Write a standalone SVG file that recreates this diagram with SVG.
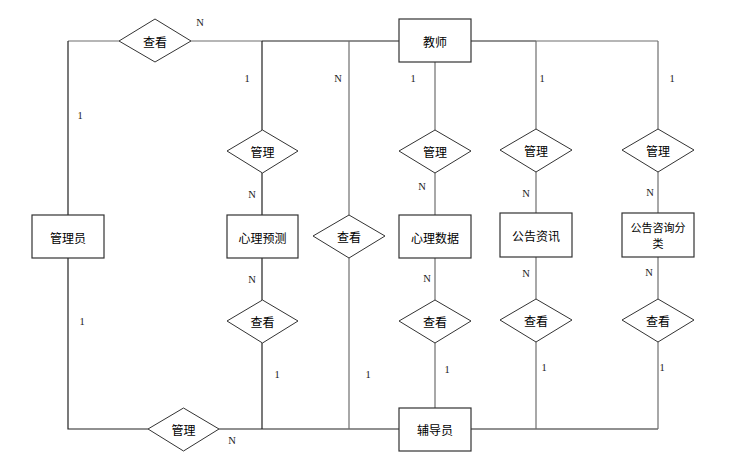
<svg xmlns="http://www.w3.org/2000/svg" width="734" height="460" viewBox="0 0 734 460">
<style>
.ent{fill:#fff;stroke:#333;stroke-width:1.2}
.rel{fill:#fff;stroke:#333;stroke-width:1}
.t{font-family:"Noto Sans CJK SC","Liberation Sans",sans-serif;font-size:12px;fill:#000;text-anchor:middle;dominant-baseline:central}
.t2{font-size:11px}
.lb{font-family:"Liberation Serif",serif;font-size:10.5px;fill:#1a1a1a;text-anchor:middle;dominant-baseline:central}
.k{fill:none;stroke:#222;stroke-width:1.2}
.g{fill:none;stroke:#6f6f6f;stroke-width:1.2}
</style>
<rect width="734" height="460" fill="#fff"/>
<g id="connectors">
<path class="g" d="M68,41 H119 M191,41 H262"/>
<path class="k" d="M262,41 H399 M471,41 H536"/>
<path class="g" d="M536,41 H658"/>
<path class="k" d="M68,41 V215 M68,258 V429 H148 M219,429 H399 M471,429 H658"/>
<path class="k" d="M262,41 V130 M262,173 V215 M262,258 V300 M262,343 V429"/>
<path class="g" d="M349,41 V215 M349,258 V429"/>
<path class="g" d="M435,62 V130 M435,173 V215 M435,258 V300 M435,343 V408"/>
<path class="g" d="M536,41 V129 M536,172 V213 M536,257 V299 M536,342 V429"/>
<path class="g" d="M658,41 V129 M658,172 V213 M658,257 V299 M658,342 V429"/>
</g>
<g id="labels">
<text class="lb" x="200" y="22">N</text>
<text class="lb" x="247" y="78">1</text>
<text class="lb" x="338" y="78">N</text>
<text class="lb" x="413" y="78">1</text>
<text class="lb" x="542" y="78">1</text>
<text class="lb" x="672" y="78">1</text>
<text class="lb" x="80" y="115">1</text>
<text class="lb" x="252" y="194">N</text>
<text class="lb" x="252" y="279">N</text>
<text class="lb" x="422" y="186">N</text>
<text class="lb" x="427" y="278">N</text>
<text class="lb" x="526" y="193">N</text>
<text class="lb" x="526" y="273">N</text>
<text class="lb" x="650" y="192">N</text>
<text class="lb" x="649" y="272">N</text>
<text class="lb" x="82" y="321">1</text>
<text class="lb" x="277" y="374">1</text>
<text class="lb" x="368" y="374">1</text>
<text class="lb" x="447" y="369">1</text>
<text class="lb" x="544" y="367">1</text>
<text class="lb" x="662" y="367">1</text>
<text class="lb" x="232" y="440">N</text>
</g>
<g id="teacher"><rect class="ent" x="399" y="19" width="72" height="43"/><text class="t" x="435" y="41">教师</text></g>
<g id="admin"><rect class="ent" x="32" y="215" width="72" height="43"/><text class="t" x="68" y="237">管理员</text></g>
<g id="psytest"><rect class="ent" x="227" y="215" width="71" height="43"/><text class="t" x="262.5" y="237">心理预测</text></g>
<g id="psydata"><rect class="ent" x="399" y="215" width="72" height="43"/><text class="t" x="435" y="237">心理数据</text></g>
<g id="notice"><rect class="ent" x="500" y="213" width="72" height="44"/><text class="t" x="536" y="235">公告资讯</text></g>
<g id="noticecat"><rect class="ent" x="622" y="213" width="72" height="44"/><text class="t t2" x="658" y="227">公告咨询分</text><text class="t t2" x="658" y="243">类</text></g>
<g id="counselor"><rect class="ent" x="399" y="408" width="72" height="43"/><text class="t" x="435" y="429.5">辅导员</text></g>
<g id="r-view-top"><polygon class="rel" points="119,41 155,19 191,41 155,62"/><text class="t" x="155" y="41">查看</text></g>
<g id="r-manage-1"><polygon class="rel" points="227,151 262.5,130 298,151 262.5,173"/><text class="t" x="262.5" y="151">管理</text></g>
<g id="r-view-mid"><polygon class="rel" points="313,236 349,215 385,236 349,258"/><text class="t" x="349" y="236">查看</text></g>
<g id="r-manage-2"><polygon class="rel" points="399,151 435,130 471,151 435,173"/><text class="t" x="435" y="151">管理</text></g>
<g id="r-manage-3"><polygon class="rel" points="500,150 536,129 572,150 536,172"/><text class="t" x="536" y="150">管理</text></g>
<g id="r-manage-4"><polygon class="rel" points="622,150 658,129 694,150 658,172"/><text class="t" x="658" y="150">管理</text></g>
<g id="r-view-1"><polygon class="rel" points="227,321 262.5,300 298,321 262.5,343"/><text class="t" x="262.5" y="321">查看</text></g>
<g id="r-view-2"><polygon class="rel" points="399,321 435,300 471,321 435,343"/><text class="t" x="435" y="321">查看</text></g>
<g id="r-view-3"><polygon class="rel" points="500,320 536,299 572,320 536,342"/><text class="t" x="536" y="320">查看</text></g>
<g id="r-view-4"><polygon class="rel" points="622,320 658,299 694,320 658,342"/><text class="t" x="658" y="320">查看</text></g>
<g id="r-manage-bottom"><polygon class="rel" points="148,429 183.5,408 219,429 183.5,451"/><text class="t" x="183.5" y="429">管理</text></g>
</svg>
